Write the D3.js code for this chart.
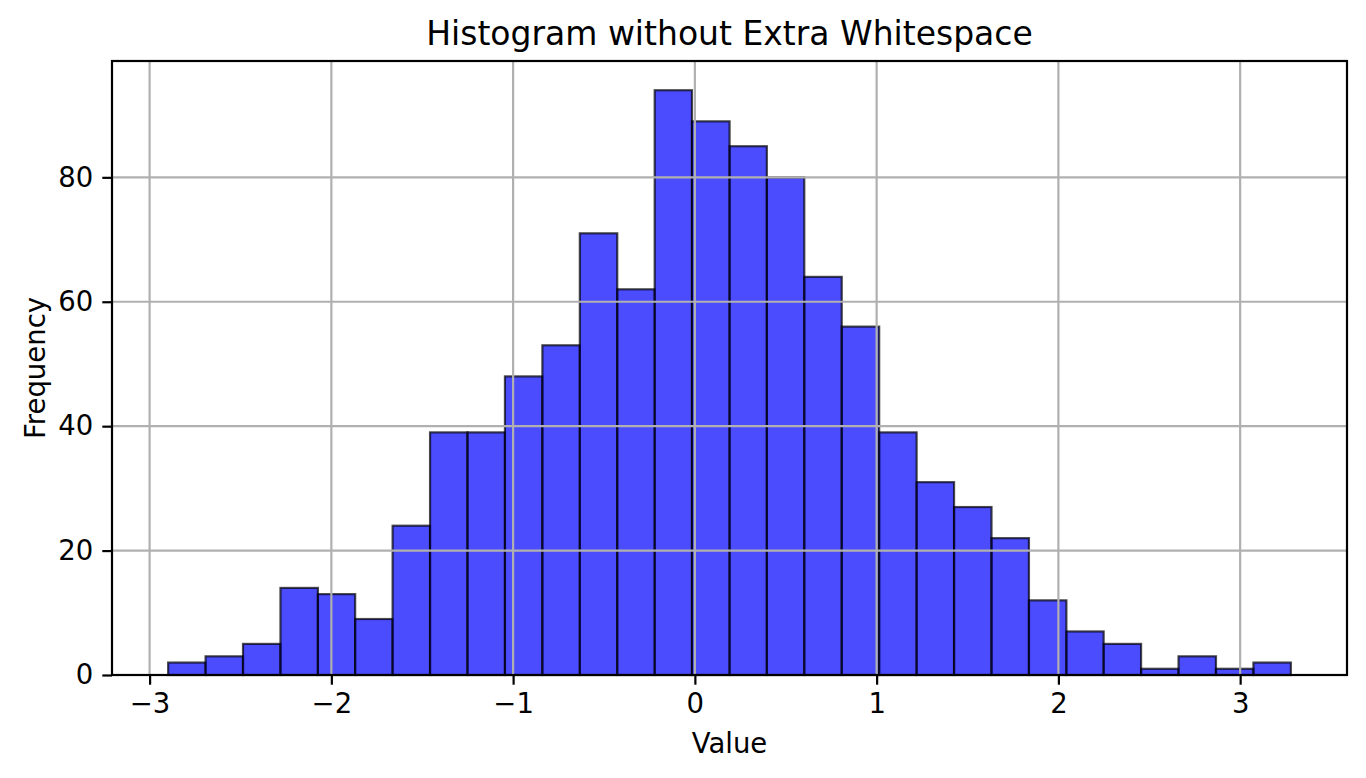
<!DOCTYPE html>
<html>
<head>
<meta charset="utf-8">
<script src="https://cdn.jsdelivr.net/npm/d3@7"></script>
<style>
  body { margin: 0; background: #fff; }
  svg { display: block; font-family: "DejaVu Sans", sans-serif; }
</style>
</head>
<body>
<svg id="chart" width="1366" height="778"></svg>
<script>
// bin edges (31) and counts (30)
const binEdges = [
  -2.898, -2.692, -2.486, -2.280, -2.074, -1.869, -1.663, -1.457, -1.251, -1.045,
  -0.839, -0.633, -0.427, -0.221, -0.016, 0.191, 0.396, 0.602, 0.808, 1.014,
  1.220, 1.426, 1.632, 1.838, 2.044, 2.249, 2.455, 2.661, 2.867, 3.073, 3.279
];
const counts = [
  2, 3, 5, 14, 13, 9, 24, 39, 39, 48,
  53, 71, 62, 94, 89, 85, 80, 64, 56, 39,
  31, 27, 22, 12, 7, 5, 1, 3, 1, 2
];
const xTicks = [-3, -2, -1, 0, 1, 2, 3];
const yTicks = [0, 20, 40, 60, 80];

const margin = { top: 61, right: 19, bottom: 103, left: 112 };
const width = 1366, height = 778;

const bins = counts.map((c, i) => ({ x0: binEdges[i], x1: binEdges[i + 1], count: c }));

const svg = d3.select("#chart");

// matplotlib style 5% padding
const span = binEdges[binEdges.length - 1] - binEdges[0];
const x = d3.scaleLinear()
  .domain([binEdges[0] - span * 0.05, binEdges[binEdges.length - 1] + span * 0.05])
  .range([margin.left, width - margin.right]);

const yMax = d3.max(counts) * 1.05;
const y = d3.scaleLinear()
  .domain([0, yMax])
  .range([height - margin.bottom, margin.top]);

// bars
svg.append("g")
  .selectAll("rect")
  .data(bins)
  .join("rect")
  .attr("x", d => x(d.x0))
  .attr("y", d => y(d.count))
  .attr("width", d => x(d.x1) - x(d.x0))
  .attr("height", d => y(0) - y(d.count))
  .attr("fill", "#0000ff")
  .attr("fill-opacity", 0.7)
  .attr("stroke", "#000")
  .attr("stroke-opacity", 0.7)
  .attr("stroke-width", 2.2);

// grid sits over the bars like in the original
const grid = svg.append("g").attr("stroke", "#b0b0b0").attr("stroke-width", 2.2);
grid.selectAll(".gx")
  .data(xTicks)
  .join("line")
  .attr("x1", d => x(d)).attr("x2", d => x(d))
  .attr("y1", margin.top).attr("y2", height - margin.bottom);
grid.selectAll(".gy")
  .data(yTicks)
  .join("line")
  .attr("x1", margin.left).attr("x2", width - margin.right)
  .attr("y1", d => y(d)).attr("y2", d => y(d));

const fmt = d => (d < 0 ? "\u2212" + Math.abs(d) : "" + d);

const xAxis = g => g
  .attr("transform", `translate(0,${height - margin.bottom})`)
  .call(d3.axisBottom(x).tickValues(xTicks).tickFormat(fmt).tickSize(9.7).tickPadding(9))
  .call(g => g.select(".domain").remove())
  .call(g => g.selectAll("line").attr("stroke", "#000").attr("stroke-width", 2.2))
  .call(g => g.selectAll("text").attr("font-size", "27.5px").attr("fill", "#000")
    .attr("font-family", "DejaVu Sans"));

const yAxis = g => g
  .attr("transform", `translate(${margin.left},0)`)
  .call(d3.axisLeft(y).tickValues(yTicks).tickSize(9.7).tickPadding(9))
  .call(g => g.select(".domain").remove())
  .call(g => g.selectAll("line").attr("stroke", "#000").attr("stroke-width", 2.2))
  .call(g => g.selectAll("text").attr("font-size", "27.5px").attr("fill", "#000")
    .attr("font-family", "DejaVu Sans"));

svg.append("g").call(xAxis);
svg.append("g").call(yAxis);

// frame
svg.append("rect")
  .attr("x", margin.left)
  .attr("y", margin.top)
  .attr("width", width - margin.left - margin.right)
  .attr("height", height - margin.top - margin.bottom)
  .attr("fill", "none")
  .attr("stroke", "#000")
  .attr("stroke-width", 2.2);

// title + labels
svg.append("text")
  .attr("x", (margin.left + width - margin.right) / 2)
  .attr("y", 45)
  .attr("text-anchor", "middle")
  .attr("font-size", "33px")
  .text("Histogram without Extra Whitespace");

svg.append("text")
  .attr("x", (margin.left + width - margin.right) / 2)
  .attr("y", 753)
  .attr("text-anchor", "middle")
  .attr("font-size", "27.5px")
  .text("Value");

svg.append("text")
  .attr("transform", `translate(45,${(margin.top + height - margin.bottom) / 2}) rotate(-90)`)
  .attr("text-anchor", "middle")
  .attr("font-size", "27.5px")
  .text("Frequency");
</script>
</body>
</html>
